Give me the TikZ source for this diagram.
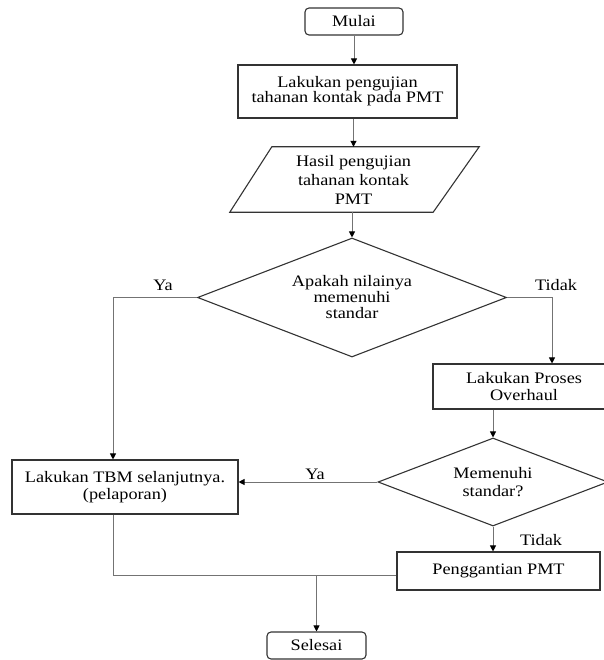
\documentclass[tikz,border=0pt]{standalone}
\usepackage{fontspec}
\setmainfont{Liberation Serif}[FakeStretch=1.14]
\usetikzlibrary{shapes.geometric,arrows.meta}
\begin{document}
\begin{tikzpicture}[x=1pt,y=-1pt,
  every node/.style={font=\fontsize{16}{17}\selectfont, text=black},
  shapeline/.style={draw=black!80, line width=1.1pt},
  proc/.style={shapeline, rectangle, inner sep=0pt, align=center},
  term/.style={proc, rounded corners=4pt},
  dec/.style={shapeline, diamond, aspect=2.6, inner sep=0pt, align=center},
  conn/.style={draw=black!55, line width=0.9pt},
  arr/.style={conn, -{Triangle[length=6pt,width=6pt,color=black]}},
  lbl/.style={inner sep=0pt, anchor=base}]
\useasboundingbox (0,0) rectangle (603,660);

\node[term, minimum width=98pt, minimum height=27pt] (mulai) at (354,21.5) {Mulai};
\node[proc, minimum width=219pt, minimum height=53pt, font=\fontsize{16}{15}\selectfont] (box1) at (347.5,91.5) {Lakukan pengujian\\tahanan kontak pada PMT};
\node[inner sep=0pt, minimum width=205pt, minimum height=65pt, align=center, font=\fontsize{16}{19}\selectfont] (para) at (353.5,179.5) {Hasil pengujian\\tahanan kontak\\PMT};
\draw[shapeline] ([xshift=21pt]para.north west) -- ([xshift=23pt]para.north east) -- ([xshift=-23pt]para.south east) -- ([xshift=-21pt]para.south west) -- cycle;
\node[dec, minimum width=309pt, minimum height=119pt, font=\fontsize{16}{16}\selectfont] (d1) at (352,297.5) {Apakah nilainya\\memenuhi\\standar};
\node[proc, minimum width=182pt, minimum height=45pt, font=\fontsize{16}{16.5}\selectfont] (ovh) at (524,386.5) {Lakukan Proses\\Overhaul};
\node[dec, minimum width=230pt, minimum height=88pt, font=\fontsize{16}{18}\selectfont] (d2) at (493,482) {Memenuhi\\standar?};
\node[proc, minimum width=226pt, minimum height=54pt, font=\fontsize{16}{17}\selectfont] (tbm) at (125,487) {Lakukan TBM selanjutnya.\\(pelaporan)};
\node[proc, minimum width=203pt, minimum height=38pt] (pengg) at (498.5,571) {Penggantian PMT};
\node[term, minimum width=99pt, minimum height=27pt] (sel) at (316.5,645.5) {Selesai};

\draw[arr] (mulai.south) -- (mulai.south |- box1.north);
\draw[arr] (para.north |- box1.south) -- (para.north);
\draw[arr] (d1.north |- para.south) -- (d1.north);
\draw[arr] (d1.west) -| ([xshift=-12pt]tbm.north);
\draw[arr] (d1.east) -| ([xshift=28pt]ovh.north);
\draw[arr] (d2.north |- ovh.south) -- (d2.north);
\draw[arr] (d2.west) -- (d2.west -| tbm.east);
\draw[arr] (d2.south) -- (d2.south |- pengg.north);
\draw[conn] ([xshift=-12pt]tbm.south) |- ([yshift=-4pt]pengg.west);
\coordinate (j) at (316.5,575);
\draw[arr] (j) -- (sel.north);

\node[lbl] (ya1) at (163,290) {Ya};
\node[lbl] (td1) at (556,290) {Tidak};
\node[lbl] (ya2) at (315,479) {Ya};
\node[lbl] (td2) at (541,545) {Tidak};
\end{tikzpicture}
\end{document}
